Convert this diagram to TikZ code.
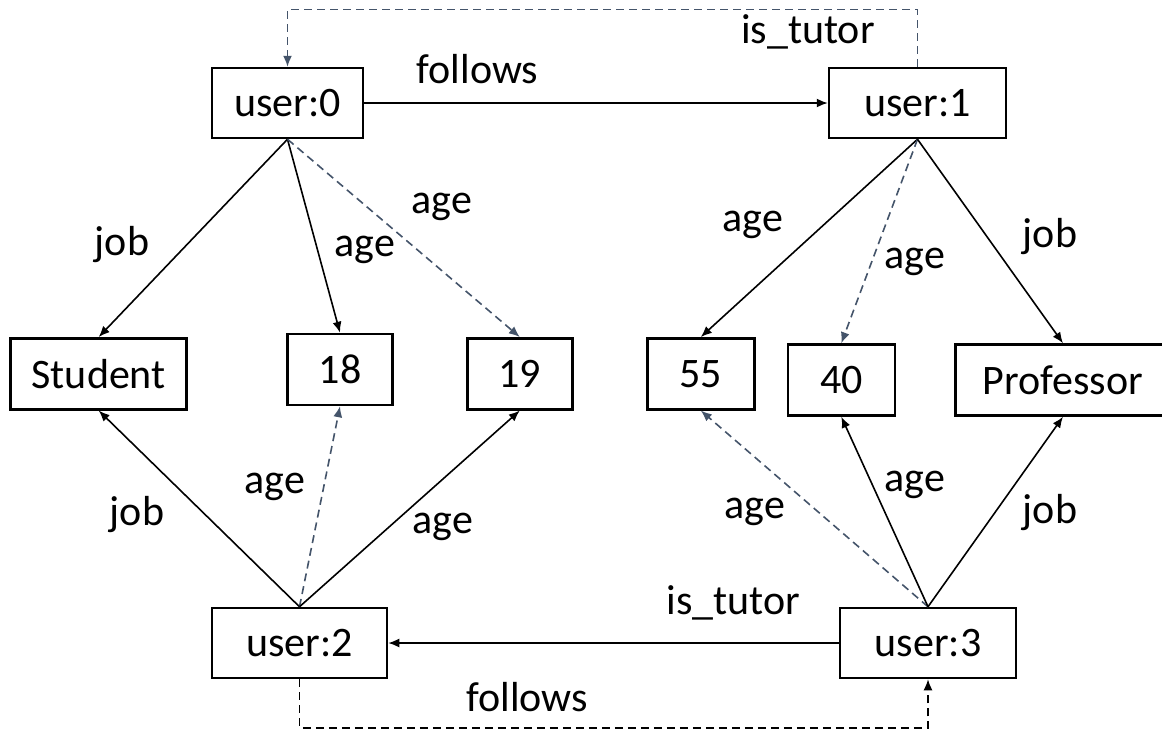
\documentclass[tikz,border=0pt]{standalone}
\usepackage{fontspec}
\setmainfont{Carlito}
\usetikzlibrary{arrows.meta}
\definecolor{dashblue}{HTML}{44546A}
\begin{document}
\begin{tikzpicture}[x=1pt,y=-1pt,
  box/.style={draw,line width=2.5pt,inner sep=0pt,font=\fontsize{42}{50}\selectfont,minimum height=70pt},
  lbl/.style={font=\fontsize{42}{50}\selectfont,inner sep=0pt},
  arr/.style={line width=1.6pt,-{Latex[length=11pt,width=9pt]}},
  darr/.style={arr,dashblue,dash pattern=on 8pt off 5pt},
  karr/.style={arr,black,dash pattern=on 8pt off 5pt}]
\useasboundingbox (0,0) rectangle (1162,734);
% nodes
\node[box,minimum width=151pt] (u0) at (287.5,103) {user:0};
\node[box,minimum width=177pt] (u1) at (917.5,103) {user:1};
\node[box,minimum width=175pt] (u2) at (299.5,643) {user:2};
\node[box,minimum width=176pt] (u3) at (928,643) {user:3};
\node[box,minimum width=176pt,minimum height=71pt] (st) at (98.7,373.8) {Student};
\node[box,minimum width=105pt,minimum height=71pt] (n18) at (340,369.5) {18};
\node[box,minimum width=105pt,minimum height=71pt] (n19) at (519.8,373.8) {19};
\node[box,minimum width=107pt,minimum height=71pt] (n55) at (700.8,373.8) {55};
\node[box,minimum width=107pt,minimum height=71pt] (n40) at (841.3,380) {40};
\node[box,minimum width=215pt,minimum height=71pt] (pr) at (1063,380) {Professor};
\coordinate (tt) at (0,9.5);
\coordinate (bb) at (0,728);
% connectors
\draw[arr] (u0.east) -- (u1.west);
\draw[darr] (u1.north) -- (u1.north |- tt) -- (u0.north |- tt) -- (u0.north);
\draw[arr] (u0.south) -- (st.north);
\draw[arr] (u0.south) -- (n18.north);
\draw[darr] (u0.south) -- (n19.north);
\draw[arr] (u1.south) -- (n55.north);
\draw[darr] (u1.south) -- (n40.north);
\draw[arr] (u1.south) -- (pr.north);
\draw[arr] (u2.north) -- (st.south);
\draw[darr] (u2.north) -- (n18.south);
\draw[arr] (u2.north) -- (n19.south);
\draw[darr] (u3.north) -- (n55.south);
\draw[arr] (u3.north) -- (n40.south);
\draw[arr] (u3.north) -- (pr.south);
\draw[arr] (u3.west) -- (u2.east);
\draw[karr] (u2.south) -- (u2.south |- bb) -- (u3.south |- bb) -- (u3.south);
% labels
\node[lbl,anchor=base] (l1) at (477.5,83) {follows};
\node[lbl,anchor=base] (l2) at (808,43) {is\_tutor};
\node[lbl] (l3) at (122,245) {job};
\node[lbl] (l4) at (365,250) {age};
\node[lbl] (l5) at (442,207) {age};
\node[lbl] (l6) at (753,225) {age};
\node[lbl] (l7) at (915,262) {age};
\node[lbl] (l8) at (1050,237) {job};
\node[lbl] (l9) at (137,515) {job};
\node[lbl] (l10) at (275,487) {age};
\node[lbl] (l11) at (443,527) {age};
\node[lbl] (l12) at (755,512) {age};
\node[lbl] (l13) at (915,485) {age};
\node[lbl] (l14) at (1050,513) {job};
\node[lbl,anchor=base] (l15) at (733.5,614) {is\_tutor};
\node[lbl] (l16) at (527,697) {follows};
\end{tikzpicture}
\end{document}
